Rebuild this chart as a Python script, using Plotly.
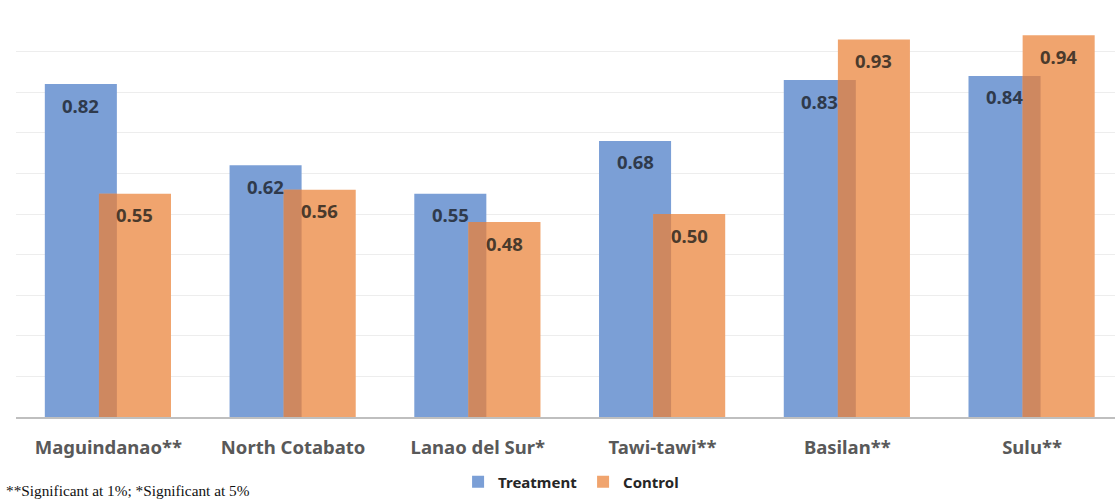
import plotly.graph_objects as go

# Regions and outcome shares by group
regions = ["Maguindanao**", "North Cotabato", "Lanao del Sur*", "Tawi-tawi**", "Basilan**", "Sulu**"]
treatment = [0.82, 0.62, 0.55, 0.68, 0.83, 0.84]
control = [0.55, 0.56, 0.48, 0.50, 0.93, 0.94]

BLUE = "#7B9FD6"
ORANGE = "#F0A46E"
OVERLAP = "#CE8860"

bar_w = 0.39
t_off = -0.344
c_off = -0.051

x = list(range(len(regions)))
overlap = [min(a, b) for a, b in zip(treatment, control)]

fig = go.Figure()
fig.add_trace(go.Bar(x=x, y=treatment, name="<b>Treatment</b>", marker=dict(color=BLUE, line_width=0),
                     width=bar_w, offset=t_off, hoverinfo="skip"))
fig.add_trace(go.Bar(x=x, y=control, name="<b>Control</b>", marker=dict(color=ORANGE, line_width=0),
                     width=bar_w, offset=c_off, hoverinfo="skip"))
# darker band where the two bars overlap
fig.add_trace(go.Bar(x=x, y=overlap, showlegend=False, marker=dict(color=OVERLAP, line_width=0),
                     width=t_off + bar_w - c_off, offset=c_off, hoverinfo="skip"))

for i, v in enumerate(treatment):
    fig.add_annotation(x=i + t_off + bar_w / 2, y=v, text=f"<b>{v:.2f}</b>", showarrow=False,
                       yshift=-21, font=dict(family="Noto Sans", size=18.5, color="#2F3A4C"))
for i, v in enumerate(control):
    fig.add_annotation(x=i + c_off + bar_w / 2, y=v, text=f"<b>{v:.2f}</b>", showarrow=False,
                       yshift=-21, font=dict(family="Noto Sans", size=18.5, color="#4A3A2C"))

fig.add_annotation(xref="paper", yref="paper", x=-0.011, y=-0.182, xanchor="left", yanchor="middle",
                   text="**Significant at 1%; *Significant at 5%", showarrow=False,
                   font=dict(family="Liberation Serif", size=15.3, color="#111111"))

fig.update_layout(
    width=1115, height=499,
    margin=dict(l=16, r=0, t=11, b=82),
    barmode="overlay",
    plot_bgcolor="white", paper_bgcolor="white",
    showlegend=True,
    legend=dict(orientation="h", xref="paper", yref="paper", x=0.516, y=-0.16,
                xanchor="center", yanchor="middle",
                font=dict(family="Noto Sans", size=15, color="#262626"),
                itemwidth=30, entrywidth=80, entrywidthmode="pixels", traceorder="normal"),
    xaxis=dict(range=[-0.5, 5.449], tickvals=x,
               ticktext=[f"<b>{r}</b>" for r in regions],
               tickfont=dict(family="Noto Sans", size=18.5, color="#595959"),
               showgrid=False, zeroline=False, showline=True, linecolor="#BFBFBF", linewidth=1.5,
               ticks="", ticklabelstandoff=13),
    yaxis=dict(range=[0, 1.0], dtick=0.1, showticklabels=False, showgrid=True,
               gridcolor="#EDEDED", gridwidth=1, zeroline=False, ticks=""),
)

fig.write_html("out.html")
